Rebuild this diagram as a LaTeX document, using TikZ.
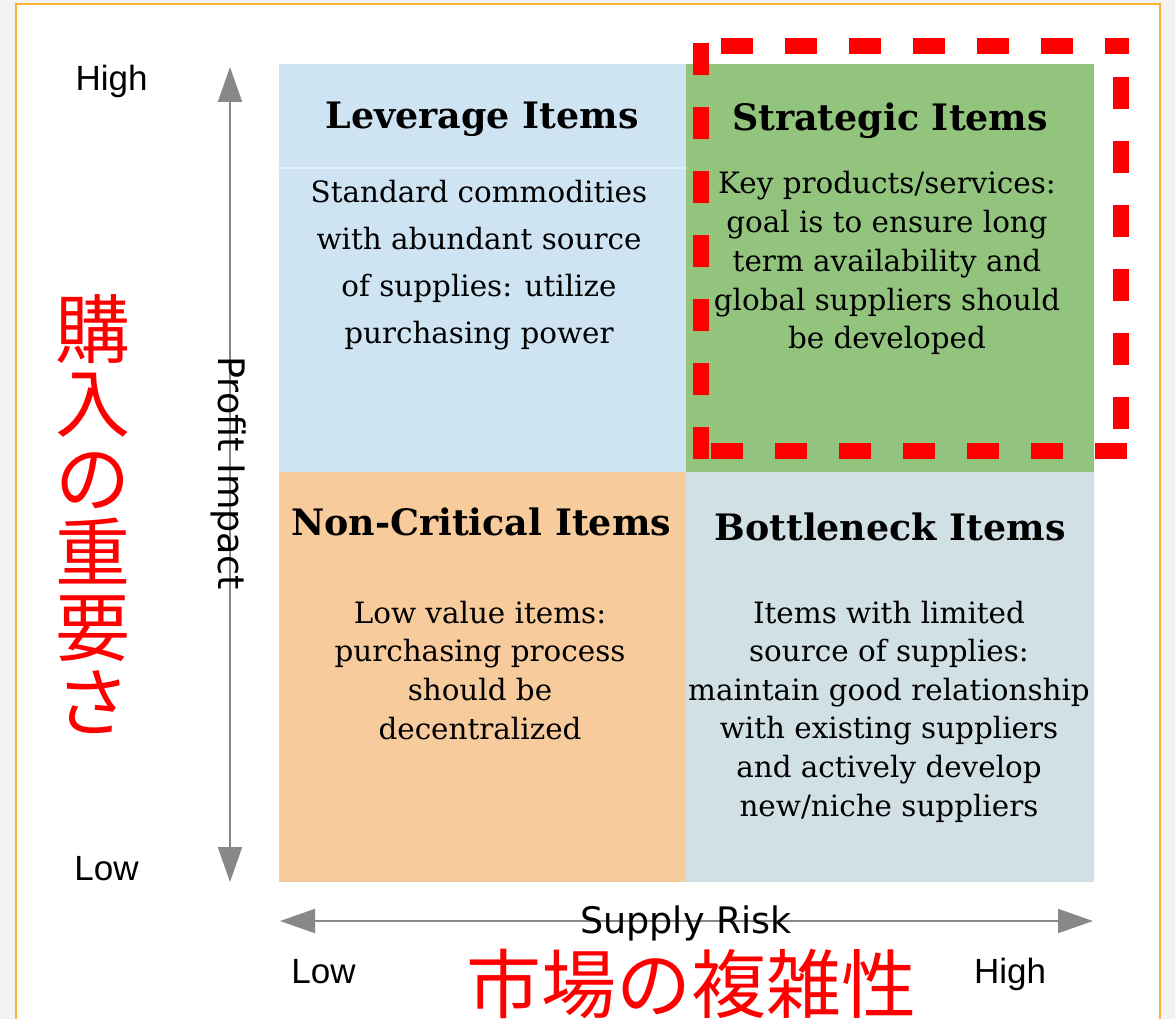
\documentclass[tikz,border=0pt]{standalone}
\usepackage{fontspec}
\setmainfont{DejaVu Serif}
\newfontfamily\sansf{Liberation Sans}
\newfontfamily\dvsans{DejaVu Sans}
\newfontfamily\cjkf{Noto Sans CJK JP}
\usetikzlibrary{arrows.meta}
\newcommand\centerlines[2]{\vtop{\baselineskip=#1\relax\lineskiplimit=-100pt\halign{\hfil##\hfil\cr#2\crcr}}}
\definecolor{pagegray}{HTML}{F2F2F0}
\definecolor{frameorange}{HTML}{F9B233}
\definecolor{levblue}{HTML}{CFE4F3}
\definecolor{levline}{HTML}{E2EEF8}
\definecolor{stratgreen}{HTML}{93C47D}
\definecolor{noncritorange}{HTML}{F8CB9C}
\definecolor{bottleblue}{HTML}{D1E0E5}
\definecolor{axisgray}{HTML}{888888}
\begin{document}
\begin{tikzpicture}[x=1pt,y=-1pt,
  quad/.style={inner sep=0pt, outer sep=0pt, draw=none},
  qtitle/.style={anchor=base, inner sep=0pt, font=\bfseries\fontsize{36.4}{42}\selectfont},
  qbody/.style={anchor=base, inner sep=0pt, font=\fontsize{29.4}{38.7}\selectfont},
  axisline/.style={draw=axisgray, line width=2pt, {Triangle[length=35pt,width=24pt]}-{Triangle[length=35pt,width=24pt]}},
  axlbl/.style={anchor=base, inner sep=0pt, font=\sansf\fontsize{35}{40}\selectfont},
  axname/.style={inner sep=0pt, font=\dvsans\fontsize{36.5}{40}\selectfont},
  jp/.style={text=red, inner sep=0pt, anchor=base, font=\cjkf\fontsize{75}{80}\selectfont},
  redbox/.style={draw=red, line width=16pt, dash pattern=on 32pt off 32pt, shorten <=-8pt, shorten >=-8pt},
]
\useasboundingbox (0,0) rectangle (1175,1019);
\fill[pagegray] (0,0) rectangle (1175,1019);
\fill[white] (16,4) rectangle (1160,1030);
\draw[frameorange, line width=2pt] (16,1030) -- (16,4) -- (1160,4) -- (1160,1030);

% quadrants
\node[quad, fill=levblue, minimum width=407pt, minimum height=407.5pt] (lev) at (482.5,267.75) {};
\node[quad, fill=stratgreen, minimum width=408pt, minimum height=407.5pt] (strat) at (890,267.75) {};
\node[quad, fill=noncritorange, minimum width=407pt, minimum height=410.5pt] (noncrit) at (482.5,676.75) {};
\node[quad, fill=bottleblue, minimum width=408pt, minimum height=410.5pt] (bottle) at (890,676.75) {};
\draw[levline, line width=2pt] (lev.west |- 0,168) -- (lev.east |- 0,168);

% titles
\node[qtitle] (levT) at (482,129) {Leverage Items};
\node[qtitle] (stratT) at (890,131) {Strategic Items};
\node[qtitle] (noncritT) at (481,535) {Non-Critical Items};
\node[qtitle] (bottleT) at (890,540) {Bottleneck Items};

% bodies
\node[qbody] (levB) at (479,203) {\centerlines{46.7pt}{Standard commodities\cr with abundant source\cr of supplies: utilize\cr purchasing power}};
\node[qbody] (stratB) at (887,194) {\centerlines{38.7pt}{Key products/services:\cr goal is to ensure long\cr term availability and\cr global suppliers should\cr be developed}};
\node[qbody] (noncritB) at (480,623) {\centerlines{38.7pt}{Low value items:\cr purchasing process\cr should be\cr decentralized}};
\node[qbody] (bottleB) at (889,623) {\centerlines{38.6pt}{Items with limited\cr source of supplies:\cr maintain good relationship\cr with existing suppliers\cr and actively develop\cr new/niche suppliers}};

% red dashed highlight
\coordinate (rTL) at (701,46);
\coordinate (rTR) at (1121,46);
\coordinate (rBR) at (1121,451);
\coordinate (rBL) at (701,451);
\draw[redbox, dash phase=36pt] (rTL) -- (rTR);
\draw[redbox, dash phase=25pt] (rTR) -- (rBR);
\draw[redbox, dash phase=46pt] (rBL) -- (rBR);
\draw[redbox, dash phase=59pt] (rTL) -- (rBL);

% axes
\coordinate (vtop) at (230,67);
\coordinate (vbot) at (230,882);
\coordinate (hleft) at (280,921);
\coordinate (hright) at (1093,921);
\draw[axisline] (vtop) -- (vbot);
\draw[axisline] (hleft) -- (hright);
\node[axname, rotate=-90] (pi) at (229,473) {Profit Impact};
\node[axname, anchor=base] (sr) at (686,933) {Supply Risk};

\node[axlbl] (vhigh) at (111.5,91) {High};
\node[axlbl] (vlow) at (106.5,880) {Low};
\node[axlbl] (hlow) at (323.5,983) {Low};
\node[axlbl] (hhigh) at (1010,983) {High};

% Japanese annotations
\node[jp] (jpv) at (93,357) {\centerlines{74.6pt}{購\cr 入\cr の\cr 重\cr 要\cr さ}};
\node[jp] (jph) at (691.5,1012) {市場の複雑性};
\end{tikzpicture}
\end{document}
